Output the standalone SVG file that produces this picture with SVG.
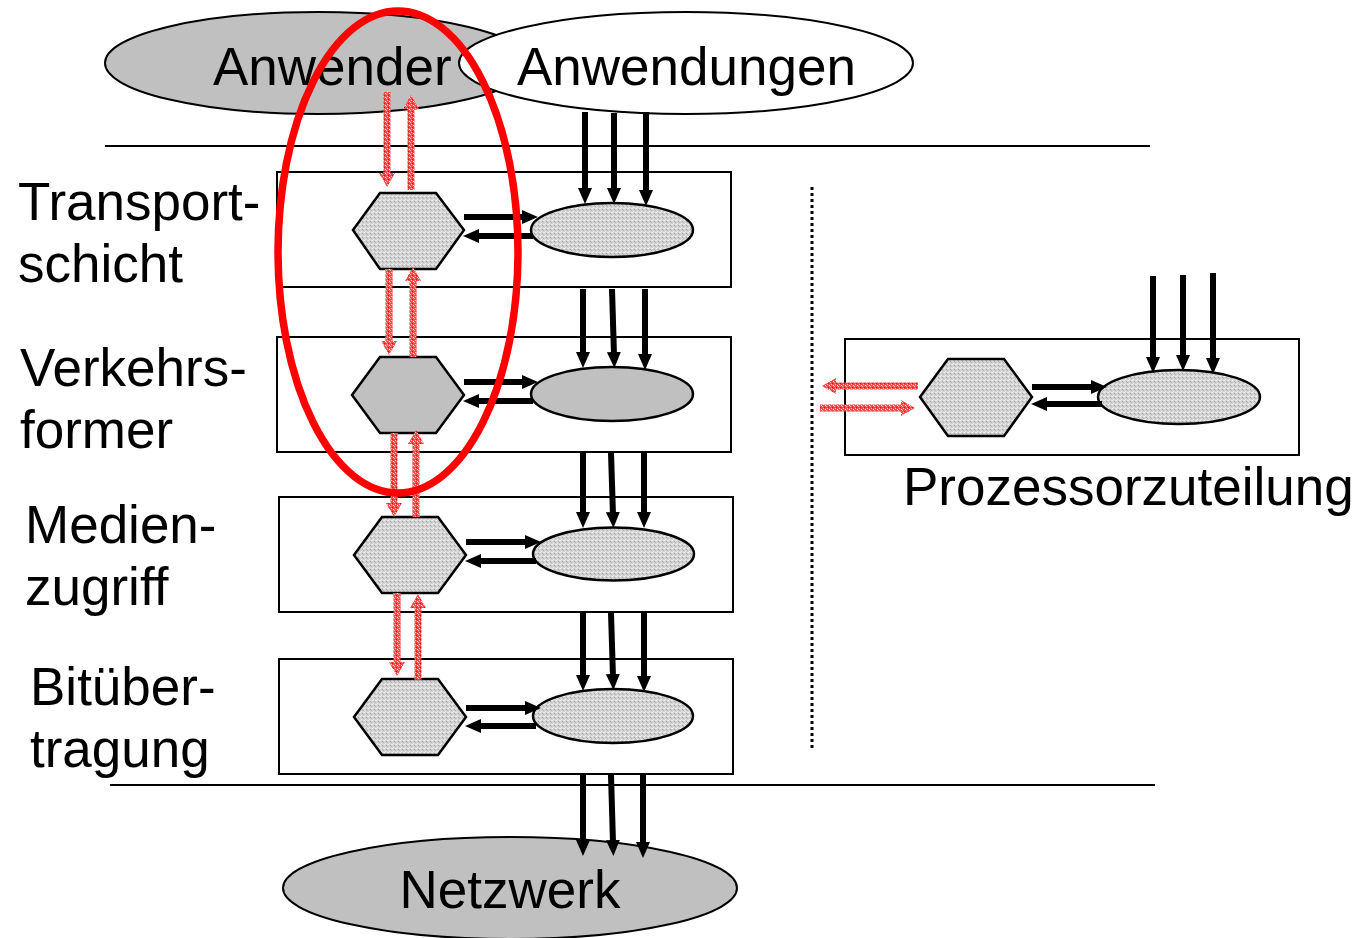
<svg xmlns="http://www.w3.org/2000/svg" width="1357" height="938" viewBox="0 0 1357 938">
<defs>
<pattern id="gspeck" width="4" height="4" patternUnits="userSpaceOnUse">
<rect width="4" height="4" fill="#d2d2d2"/>
<rect x="0" y="0" width="1" height="1" fill="#f2f2f2"/>
<rect x="2" y="1" width="1" height="1" fill="#a8a8a8"/>
<rect x="1" y="3" width="1" height="1" fill="#ededed"/>
<rect x="3" y="2" width="1" height="1" fill="#b5b5b5"/>
<rect x="3" y="0" width="1" height="1" fill="#e4e4e4"/>
</pattern>
<pattern id="rspeck" width="4" height="4" patternUnits="userSpaceOnUse">
<rect width="4" height="4" fill="#ff4a4a"/>
<rect x="1" y="1" width="1" height="1" fill="#ffffff"/>
<rect x="3" y="0" width="1" height="1" fill="#ffc0c0"/>
<rect x="0" y="3" width="1" height="1" fill="#ee0000"/>
<rect x="2" y="2" width="1" height="1" fill="#ffb0b0"/>
</pattern>
<marker id="ah" viewBox="0 0 16 16" refX="3" refY="8" markerWidth="16" markerHeight="16" markerUnits="userSpaceOnUse" orient="auto">
<path d="M0,1 L16,8 L0,15 z" fill="#000"/>
</marker>
</defs>
<style>
.lbl{font-family:"Liberation Sans",Arial,sans-serif;font-size:53px;fill:#000}
.box{fill:none;stroke:#000;stroke-width:2}
.hex{fill:url(#gspeck);stroke:#000;stroke-width:2.5}
.ell{fill:url(#gspeck);stroke:#000;stroke-width:2.5}
.solid{fill:#c0c0c0;stroke:#000;stroke-width:2.5}
.arr{stroke:#000;stroke-width:6;fill:none;marker-end:url(#ah)}
.rarr{fill:url(#rspeck);stroke:none}
</style>
<rect width="1357" height="938" fill="#fff"/>

<g id="anwender">
<ellipse cx="318" cy="63" rx="213" ry="51" fill="#c0c0c0" stroke="#000" stroke-width="2"/>
<text class="lbl" x="213" y="85">Anwender</text>
</g>
<g id="anwendungen">
<ellipse cx="686" cy="63" rx="227" ry="51" fill="#fff" stroke="#000" stroke-width="2"/>
<text class="lbl" x="517" y="85">Anwendungen</text>
</g>

<g id="separators">
<line x1="105" y1="146" x2="1150" y2="146" stroke="#000" stroke-width="2"/>
<line x1="110" y1="785" x2="1155" y2="785" stroke="#000" stroke-width="2"/>
<line x1="812" y1="187" x2="812" y2="748" stroke="#000" stroke-width="3" stroke-dasharray="3,3"/>
</g>

<g id="labels">
<text class="lbl" x="18" y="220">Transport-</text>
<text class="lbl" x="18" y="282">schicht</text>
<text class="lbl" x="20" y="386">Verkehrs-</text>
<text class="lbl" x="20" y="448">former</text>
<text class="lbl" x="25" y="543">Medien-</text>
<text class="lbl" x="25" y="605">zugriff</text>
<text class="lbl" x="30" y="705">Bitüber-</text>
<text class="lbl" x="30" y="767">tragung</text>
</g>

<g id="layer1">
<rect class="box" x="277" y="172" width="454" height="115"/>
<polygon class="hex" points="353,230 380,193 436,193 464,230 436,269 380,269"/>
<ellipse class="ell" cx="612" cy="230" rx="81" ry="27"/>
</g>
<g id="layer2">
<rect class="box" x="277" y="337" width="454" height="115"/>
<polygon class="solid" points="352,395 380,357 436,357 464,395 436,433 380,433"/>
<ellipse class="solid" cx="612" cy="394" rx="81" ry="27"/>
</g>
<g id="layer3">
<rect class="box" x="279" y="497" width="454" height="115"/>
<polygon class="hex" points="354,555 382,517 438,517 466,555 438,593 382,593"/>
<ellipse class="ell" cx="613.5" cy="554" rx="80.5" ry="26.5"/>
</g>
<g id="layer4">
<rect class="box" x="279" y="659" width="454" height="115"/>
<polygon class="hex" points="354,717 382,679 438,679 466,717 438,755 382,755"/>
<ellipse class="ell" cx="613" cy="716" rx="80" ry="27"/>
</g>
<g id="prozessor">
<rect class="box" x="845" y="339" width="454" height="116"/>
<polygon class="hex" points="920,397 948,359 1004,359 1032,397 1004,436 948,436"/>
<ellipse class="ell" cx="1179" cy="397" rx="81" ry="27"/>
<text class="lbl" x="903" y="505">Prozessorzuteilung</text>
</g>
<g id="netzwerk">
<ellipse cx="510" cy="888" rx="227" ry="51" fill="#c0c0c0" stroke="#000" stroke-width="2"/>
<text class="lbl" x="510" y="908" text-anchor="middle">Netzwerk</text>
</g>

<g id="connectors">
<line class="arr" x1="464" y1="217" x2="525" y2="217"/>
<line class="arr" x1="533" y1="236" x2="476" y2="236"/>
<line class="arr" x1="464" y1="382" x2="525" y2="382"/>
<line class="arr" x1="533" y1="401" x2="476" y2="401"/>
<line class="arr" x1="466" y1="542" x2="528" y2="542"/>
<line class="arr" x1="536" y1="561" x2="478" y2="561"/>
<line class="arr" x1="466" y1="708" x2="528" y2="708"/>
<line class="arr" x1="536" y1="726" x2="478" y2="726"/>
<line class="arr" x1="1032" y1="387" x2="1094" y2="387"/>
<line class="arr" x1="1102" y1="404" x2="1044" y2="404"/>
<line class="arr" x1="585" y1="112" x2="585" y2="191"/>
<line class="arr" x1="614" y1="113" x2="614" y2="191"/>
<line class="arr" x1="646" y1="112" x2="646" y2="193"/>
<line class="arr" x1="583" y1="289" x2="583" y2="355"/>
<line class="arr" x1="612" y1="289" x2="614" y2="355"/>
<line class="arr" x1="645" y1="289" x2="645" y2="357"/>
<line class="arr" x1="583" y1="453" x2="583" y2="515"/>
<line class="arr" x1="611" y1="453" x2="613" y2="515"/>
<line class="arr" x1="644" y1="453" x2="644" y2="515"/>
<line class="arr" x1="583" y1="613" x2="583" y2="678"/>
<line class="arr" x1="611" y1="613" x2="613" y2="677"/>
<line class="arr" x1="644" y1="613" x2="644" y2="679"/>
<line class="arr" x1="583" y1="775" x2="583" y2="843"/>
<line class="arr" x1="611" y1="775" x2="613" y2="843"/>
<line class="arr" x1="643" y1="775" x2="643" y2="845"/>
<line class="arr" x1="1153" y1="276" x2="1153" y2="360"/>
<line class="arr" x1="1183" y1="275" x2="1183" y2="358"/>
<line class="arr" x1="1213" y1="273" x2="1213" y2="361"/>
<polygon class="rarr" points="383.5,92 390.5,92 390.5,173 395,173 387,187 379,173 383.5,173"/>
<polygon class="rarr" points="407.5,190 414.5,190 414.5,109 419,109 411,95 403,109 407.5,109"/>
<polygon class="rarr" points="385.5,269 392.5,269 392.5,341 397,341 389,355 381,341 385.5,341"/>
<polygon class="rarr" points="409.5,357 416.5,357 416.5,281 421,281 413,267 405,281 409.5,281"/>
<polygon class="rarr" points="390.5,433 397.5,433 397.5,503 402,503 394,517 386,503 390.5,503"/>
<polygon class="rarr" points="412.5,517 419.5,517 419.5,444 424,444 416,430 408,444 412.5,444"/>
<polygon class="rarr" points="393.5,593 400.5,593 400.5,662 405,662 397,676 389,662 393.5,662"/>
<polygon class="rarr" points="414.5,680 421.5,680 421.5,608 426,608 418,594 410,608 414.5,608"/>
<polygon class="rarr" points="918,382.5 918,389.5 836,389.5 836,394 822,386 836,378 836,382.5"/>
<polygon class="rarr" points="820,404.5 820,411.5 901,411.5 901,416 915,408 901,400 901,404.5"/>
</g>

<g id="highlight">
<ellipse cx="398" cy="252" rx="120" ry="241" fill="none" stroke="#ff0000" stroke-width="7.5"/>
</g>
</svg>
